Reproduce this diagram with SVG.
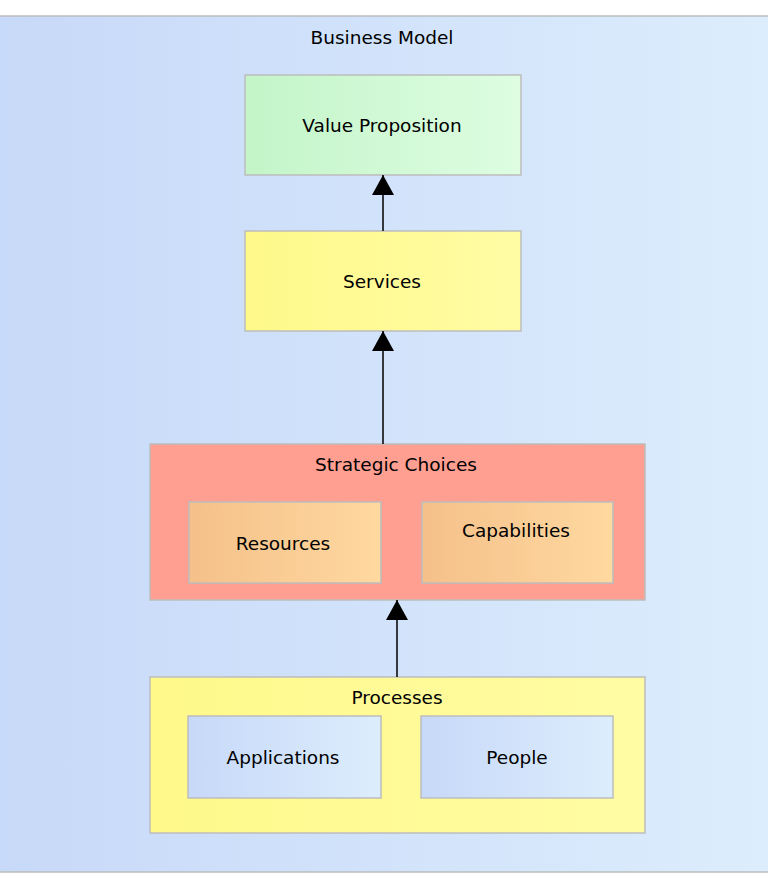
<svg xmlns="http://www.w3.org/2000/svg" width="768" height="889" viewBox="0 0 768 889">
<defs>
<linearGradient id="gBlue" x1="0" y1="0" x2="1" y2="0"><stop offset="0" stop-color="#c7d9f8"/><stop offset="1" stop-color="#dcedfd"/></linearGradient>
<linearGradient id="gGreen" x1="0" y1="0" x2="1" y2="0"><stop offset="0" stop-color="#c3f5c8"/><stop offset="1" stop-color="#defde2"/></linearGradient>
<linearGradient id="gYellow" x1="0" y1="0" x2="1" y2="0"><stop offset="0" stop-color="#fff98a"/><stop offset="1" stop-color="#fffca4"/></linearGradient>
<linearGradient id="gOrange" x1="0" y1="0" x2="1" y2="0"><stop offset="0" stop-color="#f5c08a"/><stop offset="1" stop-color="#ffd9a0"/></linearGradient>
<marker id="arrow" viewBox="0 0 20 22" refX="20" refY="11" markerWidth="20" markerHeight="22" markerUnits="userSpaceOnUse" orient="auto">
<path d="M0,0 L20,11 L0,22 Z" fill="#000"/>
</marker>
</defs>
<style>
text{font-family:"DejaVu Sans","Liberation Sans",sans-serif;font-size:18.5px;fill:#000;text-anchor:middle}
.box{stroke:#bdbdbd;stroke-width:1.5}
.conn{stroke:#000;stroke-width:1.5;fill:none}
</style>
<rect width="768" height="889" fill="#fff"/>
<g id="business-model">
<rect x="-2" y="16" width="772" height="856" fill="url(#gBlue)" class="box"/>
<text x="382" y="44">Business Model</text>
</g>
<g id="value-proposition">
<rect x="245" y="75" width="276" height="100" fill="url(#gGreen)" class="box"/>
<text x="382" y="132">Value Proposition</text>
</g>
<g id="services">
<rect x="245" y="231" width="276" height="100" fill="url(#gYellow)" class="box"/>
<text x="382" y="288">Services</text>
</g>
<g id="strategic-choices">
<rect x="150" y="444" width="495" height="156" fill="#ff9f92" class="box"/>
<text x="396" y="471">Strategic Choices</text>
</g>
<g id="resources">
<rect x="189" y="502" width="192" height="81" fill="url(#gOrange)" class="box"/>
<text x="283" y="550">Resources</text>
</g>
<g id="capabilities">
<rect x="422" y="502" width="191" height="81" fill="url(#gOrange)" class="box"/>
<text x="516" y="537">Capabilities</text>
</g>
<g id="processes">
<rect x="150" y="677" width="495" height="156" fill="url(#gYellow)" class="box"/>
<text x="397" y="704">Processes</text>
</g>
<g id="applications">
<rect x="188" y="716" width="193" height="82" fill="url(#gBlue)" class="box"/>
<text x="283" y="764">Applications</text>
</g>
<g id="people">
<rect x="421" y="716" width="192" height="82" fill="url(#gBlue)" class="box"/>
<text x="517" y="764">People</text>
</g>
<g id="connectors">
<line x1="383" y1="231" x2="383" y2="175" class="conn" marker-end="url(#arrow)"/>
<line x1="383" y1="444" x2="383" y2="331" class="conn" marker-end="url(#arrow)"/>
<line x1="397" y1="677" x2="397" y2="600" class="conn" marker-end="url(#arrow)"/>
</g>
</svg>
